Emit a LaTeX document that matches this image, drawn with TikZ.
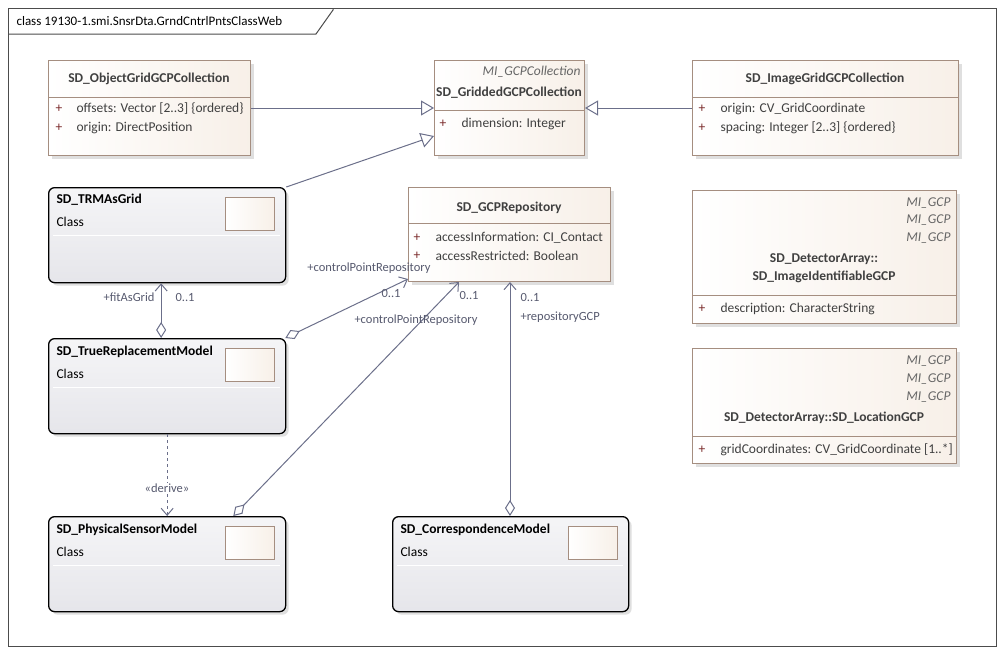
\documentclass[tikz,border=0pt]{standalone}
\usepackage{fontspec}
\setmainfont{Carlito}
\usepackage{tikz}
\usetikzlibrary{arrows.meta,shadows}
\definecolor{edgecol}{HTML}{6B6F8A}
\definecolor{boxborder}{HTML}{A58E80}
\definecolor{attrcol}{HTML}{7A2A2A}

\tikzset{
  attrbox/.style={draw=boxborder, line width=1pt, left color=white, right color=BrownLight, anchor=north west, inner sep=0pt,
    drop shadow={shadow xshift=3pt, shadow yshift=-3pt, opacity=0.25}},
  clsbox/.style={draw=black, line width=1.3pt, rounded corners=6pt, top color=white!60!ClsBlue, bottom color=ClsBlue,
    anchor=north west, inner sep=0pt, minimum width=237pt, minimum height=95pt,
    drop shadow={shadow xshift=3pt, shadow yshift=-3pt, opacity=0.25}},
  iconbox/.style={draw=boxborder, line width=1pt, left color=white, right color=BrownLight, anchor=north west, inner sep=0pt,
    minimum width=49pt, minimum height=33pt},
  cname/.style={font=\fontsize{13.5}{15}\selectfont\bfseries, text=black!75},
  stereo/.style={font=\fontsize{13.5}{15}\selectfont\itshape, text=black!60, anchor=east},
  attr/.style={anchor=west, text=black!75},
  plus/.style={anchor=west, text=attrcol},
  lbl/.style={text=edgecol!80!black, font=\fontsize{12.5}{14}\selectfont},
  boxline/.style={draw=boxborder, line width=1pt},
  gen/.style={draw=edgecol, line width=1pt, -{Triangle[open, length=13pt, width=15pt]}},
  assoc/.style={draw=edgecol, line width=1pt, {Diamond[open, fill=white, length=16pt, width=10pt]}-{Straight Barb[length=7pt, width=12pt]}}
}
\colorlet{BrownLight}{brown!12!white}
\colorlet{ClsBlue}{blue!10!gray!18!white}

\begin{document}
\begin{tikzpicture}[x=1pt, y=-1pt, font=\fontsize{13.5}{15}\selectfont]
\useasboundingbox (0,0) rectangle (1004,653);
% frame
\draw[black!70, line width=1pt] (8,8) rectangle (996,646);
\draw[black!70, line width=1pt] (8,34) -- (316,34) -- (333,10) -- (333,8);
\node[anchor=west, font=\fontsize{13}{15}\selectfont] at (13,21) {class 19130-1.smi.SnsrDta.GrndCntrlPntsClassWeb};

% SD_ObjectGridGCPCollection
\node[attrbox, minimum width=202pt, minimum height=95pt] (ogrid) at (48,60) {};
\node[cname] at (149,79) {SD\_ObjectGridGCPCollection};
\draw[boxline] (48,97) -- (250,97);
\node[plus] at (52,109) {+};
\node[attr] at (73,109) {offsets: Vector [2..3] \{ordered\}};
\node[plus] at (52,128) {+};
\node[attr] at (73,128) {origin: DirectPosition};

% SD_GriddedGCPCollection
\node[attrbox, minimum width=150pt, minimum height=95pt] (ggcp) at (434,60) {};
\node[stereo] at (584,72) {MI\_GCPCollection};
\node[cname] at (509,93) {SD\_GriddedGCPCollection};
\draw[boxline] (434,110) -- (584,110);
\node[plus] at (436,124) {+};
\node[attr] at (458,124) {dimension: Integer};

% SD_ImageGridGCPCollection
\node[attrbox, minimum width=266pt, minimum height=95pt] (igrid) at (692,60) {};
\node[cname] at (825,79) {SD\_ImageGridGCPCollection};
\draw[boxline] (692,97) -- (958,97);
\node[plus] at (695,109) {+};
\node[attr] at (717,109) {origin: CV\_GridCoordinate};
\node[plus] at (695,128) {+};
\node[attr] at (717,128) {spacing: Integer [2..3] \{ordered\}};

% SD_GCPRepository
\node[attrbox, minimum width=202pt, minimum height=94pt] (repo) at (408,187) {};
\node[cname] at (509,208) {SD\_GCPRepository};
\draw[boxline] (408,223) -- (610,223);
\node[plus] at (410,238) {+};
\node[attr] at (432,238) {accessInformation: CI\_Contact};
\node[plus] at (410,256) {+};
\node[attr] at (432,256) {accessRestricted: Boolean};

% SD_DetectorArray::SD_ImageIdentifiableGCP
\node[attrbox, minimum width=264pt, minimum height=133pt] (imgid) at (692,190) {};
\node[stereo] at (954,203) {MI\_GCP};
\node[stereo] at (954,220) {MI\_GCP};
\node[stereo] at (954,238) {MI\_GCP};
\node[cname] at (824,259) {SD\_DetectorArray::};
\node[cname] at (824,277) {SD\_ImageIdentifiableGCP};
\draw[boxline] (692,295) -- (956,295);
\node[plus] at (695,309) {+};
\node[attr] at (717,309) {description: CharacterString};

% SD_DetectorArray::SD_LocationGCP
\node[attrbox, minimum width=264pt, minimum height=115pt] (locgcp) at (692,348) {};
\node[stereo] at (954,361) {MI\_GCP};
\node[stereo] at (954,379) {MI\_GCP};
\node[stereo] at (954,397) {MI\_GCP};
\node[cname] at (824,418) {SD\_DetectorArray::SD\_LocationGCP};
\draw[boxline] (692,436) -- (956,436);
\node[plus] at (695,450) {+};
\node[attr] at (717,450) {gridCoordinates: CV\_GridCoordinate [1..*]};

% class elements
\node[clsbox] (trmgrid) at (48,187) {};
\node[cname, anchor=west, text=black] at (53,200) {SD\_TRMAsGrid};
\node[attr, text=black] at (53,222) {Class};
\node[iconbox] at (225,197) {};
\draw[white, line width=1pt] (53,235) -- (280,235);

\node[clsbox] (trmod) at (48,338) {};
\node[cname, anchor=west, text=black] at (53,352) {SD\_TrueReplacementModel};
\node[attr, text=black] at (53,374) {Class};
\node[iconbox] at (225,348) {};
\draw[white, line width=1pt] (53,387) -- (280,387);

\node[clsbox] (psm) at (48,516) {};
\node[cname, anchor=west, text=black] at (53,530) {SD\_PhysicalSensorModel};
\node[attr, text=black] at (53,552) {Class};
\node[iconbox] at (225,526) {};
\draw[white, line width=1pt] (53,565) -- (280,565);

\node[clsbox, minimum width=236pt] (corr) at (392,516) {};
\node[cname, anchor=west, text=black] at (397,530) {SD\_CorrespondenceModel};
\node[attr, text=black] at (397,552) {Class};
\node[iconbox] at (568,526) {};
\draw[white, line width=1pt] (397,565) -- (623,565);

% generalizations
\draw[gen] (ogrid.east) -- (ggcp.west);
\draw[gen] (igrid.west) -- (ggcp.east);
\draw[gen] (trmgrid.north east) -- ([yshift=20pt]ggcp.south west);

% associations
\draw[assoc] ([xshift=-6pt]trmod.north) -- ([xshift=-6pt]trmgrid.south);
\node[lbl, anchor=east] at (158,297) {+fitAsGrid};
\node[lbl, anchor=west] at (172,297) {0..1};
\draw[assoc] ([xshift=-1pt]trmod.north east) -- ([yshift=3pt]repo.south west);
\node[lbl, anchor=east] at (434,268) {+controlPointRepository};
\node[lbl, anchor=west] at (378,293) {0..1};
\draw[assoc] ([xshift=-53pt]psm.north east) -- ([xshift=51pt]repo.south west);
\node[lbl, anchor=west] at (456,295) {0..1};
\node[lbl] at (416,320) {+controlPointRepository};
\draw[assoc] ([xshift=118pt]corr.north west) -- ([xshift=102pt]repo.south west);
\node[lbl, anchor=west] at (517,297) {0..1};
\node[lbl, anchor=west] at (517,317) {+repositoryGCP};

% derive
\draw[edgecol, line width=1pt, dashed, -{Straight Barb[length=7pt, width=12pt]}] (trmod.south) -- (psm.north);
\node[lbl, fill=white, inner sep=1pt] at (167,488) {«derive»};
\end{tikzpicture}
\end{document}
